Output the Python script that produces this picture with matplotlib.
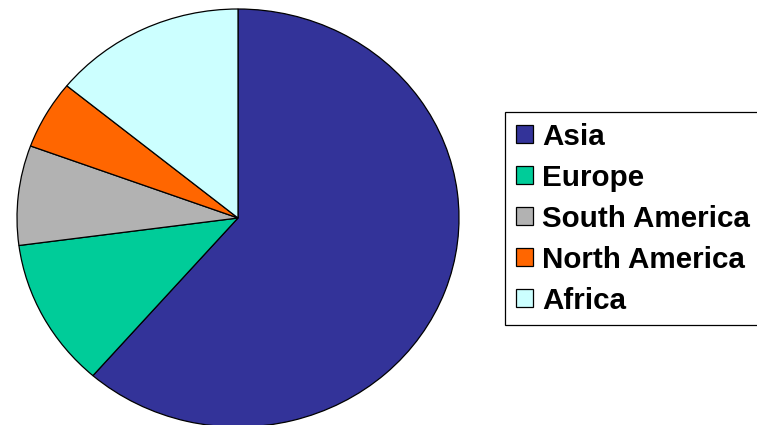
import matplotlib.pyplot as plt

regions = ['Asia', 'Europe', 'South America', 'North America', 'Africa']
shares = [61.4, 11.5, 7.7, 5.3, 14.1]
colors = ['#333399', '#00CC99', '#B2B2B2', '#FF6600', '#CCFFFF']

W, H = 757, 425
# the pie in the original is slightly squashed (wider than tall)
squash = 221 / 209

fig = plt.figure(figsize=(W / 100, H / 100), dpi=100)
ax = fig.add_axes([0, 0, 1, 1])

wedges, _ = ax.pie(shares, colors=colors, startangle=90, counterclock=False,
                   center=(238, (H - 218) * squash), radius=221,
                   wedgeprops=dict(edgecolor='black', linewidth=0.9))
ax.set_aspect('auto')
ax.set_xlim(0, W)
ax.set_ylim(0, H * squash)
ax.axis('off')

leg = fig.legend(wedges, regions, loc='upper left',
                 bbox_to_anchor=(505 / W, 1 - 112 / H), borderaxespad=0,
                 prop=dict(family='Liberation Sans', weight='bold', size=21.3),
                 handlelength=0.6, handleheight=0.57, handletextpad=0.3,
                 labelspacing=0.44, borderpad=0.36, fancybox=False,
                 frameon=True, edgecolor='black', framealpha=1)
leg.get_frame().set_linewidth(0.9)

fig.savefig('out.png', dpi=100)
